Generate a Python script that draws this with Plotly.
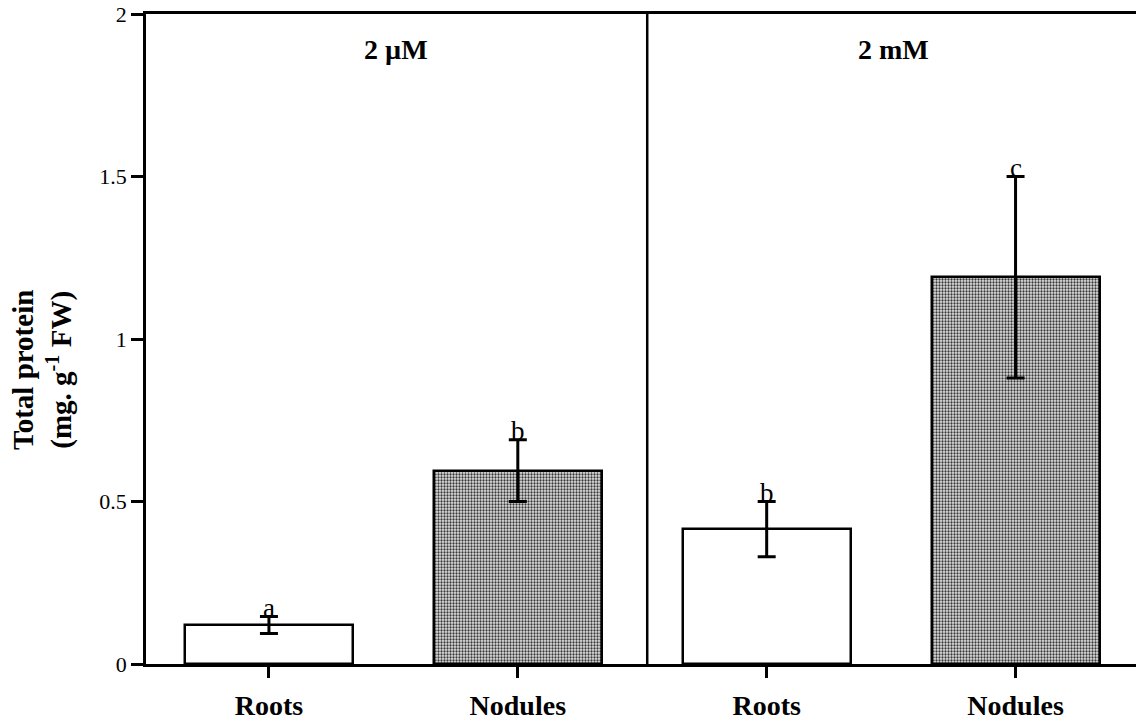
import plotly.graph_objects as go

# ---- data ----
tissues = ["Roots", "Nodules", "Roots", "Nodules"]
positions = [0, 1, 2, 3]
protein = [0.12, 0.595, 0.415, 1.19]
protein_err = [0.026, 0.095, 0.085, 0.31]
letters = ["a", "b", "b", "c"]
panel_titles = ["2 µM", "2 mM"]
panel_centers = [0.51, 2.51]
y_ticks = [0, 0.5, 1, 1.5, 2]
y_tick_labels = ["0", "0.5", "1", "1.5", "2"]

SERIF = "Liberation Serif, Times New Roman, serif"
W, H = 1136, 721
L, R, T, B = 146, 0, 14, 57

fig = go.Figure()

# white bars (roots) and stippled bars (nodules)
for idx_list, fill in (([0, 2], "white"), ([1, 3], "pattern")):
    marker = dict(color="white", line=dict(color="black", width=2.5))
    if fill == "pattern":
        marker["pattern"] = dict(shape=".", size=3, solidity=0.45,
                                 fgcolor="#383838", bgcolor="#e2e2e2",
                                 fillmode="replace")
    fig.add_trace(go.Bar(
        x=[positions[i] for i in idx_list],
        y=[protein[i] for i in idx_list],
        width=0.675,
        marker=marker,
        error_y=dict(type="data", array=[protein_err[i] for i in idx_list],
                     visible=True, color="black", thickness=3, width=9),
        showlegend=False,
    ))

# significance letters
for xp, v, e, lt in zip(positions, protein, protein_err, letters):
    fig.add_annotation(x=xp, y=v + e, text=lt, showarrow=False,
                       yanchor="bottom", yshift=-8,
                       font=dict(family=SERIF, size=27, color="black"))

# panel titles
for c, t in zip(panel_centers, panel_titles):
    fig.add_annotation(x=c, y=1.89, text="<b>%s</b>" % t, showarrow=False,
                       xanchor="center", yanchor="middle",
                       font=dict(family=SERIF, size=28, color="black"))

# divider between panels
fig.add_shape(type="line", x0=1.52, x1=1.52, y0=0, y1=2, xref="x", yref="y",
              line=dict(color="black", width=2.5))

# y-axis title
fig.add_annotation(xref="paper", yref="paper",
                   x=(42 - L) / (W - L - R), y=(664 - 370) / (721 - T - B),
                   text="<b>Total protein<br>(mg. g<sup>-1</sup> FW)</b>",
                   textangle=-90, showarrow=False, xanchor="center", yanchor="middle",
                   font=dict(family=SERIF, size=29, color="black"))

fig.update_layout(
    width=W, height=H,
    margin=dict(l=L, r=R, t=T, b=B, pad=0),
    plot_bgcolor="white", paper_bgcolor="white",
    bargap=0,
    xaxis=dict(range=[-0.494, 3.484], tickvals=positions,
               ticktext=["<b>%s</b>" % t for t in tissues],
               ticks="outside", ticklen=11, tickwidth=2.5, tickcolor="black",
               ticklabelstandoff=4,
               showline=True, linecolor="black", linewidth=2.5, mirror=True,
               showgrid=False, zeroline=False,
               tickfont=dict(family=SERIF, size=28, color="black")),
    yaxis=dict(range=[0, 2], tickvals=y_ticks, ticktext=y_tick_labels,
               ticks="outside", ticklen=12, tickwidth=2.5, tickcolor="black",
               showline=True, linecolor="black", linewidth=2.5,
               showgrid=False, zeroline=False,
               tickfont=dict(family=SERIF, size=22, color="black")),
)

fig.write_html("out.html")
